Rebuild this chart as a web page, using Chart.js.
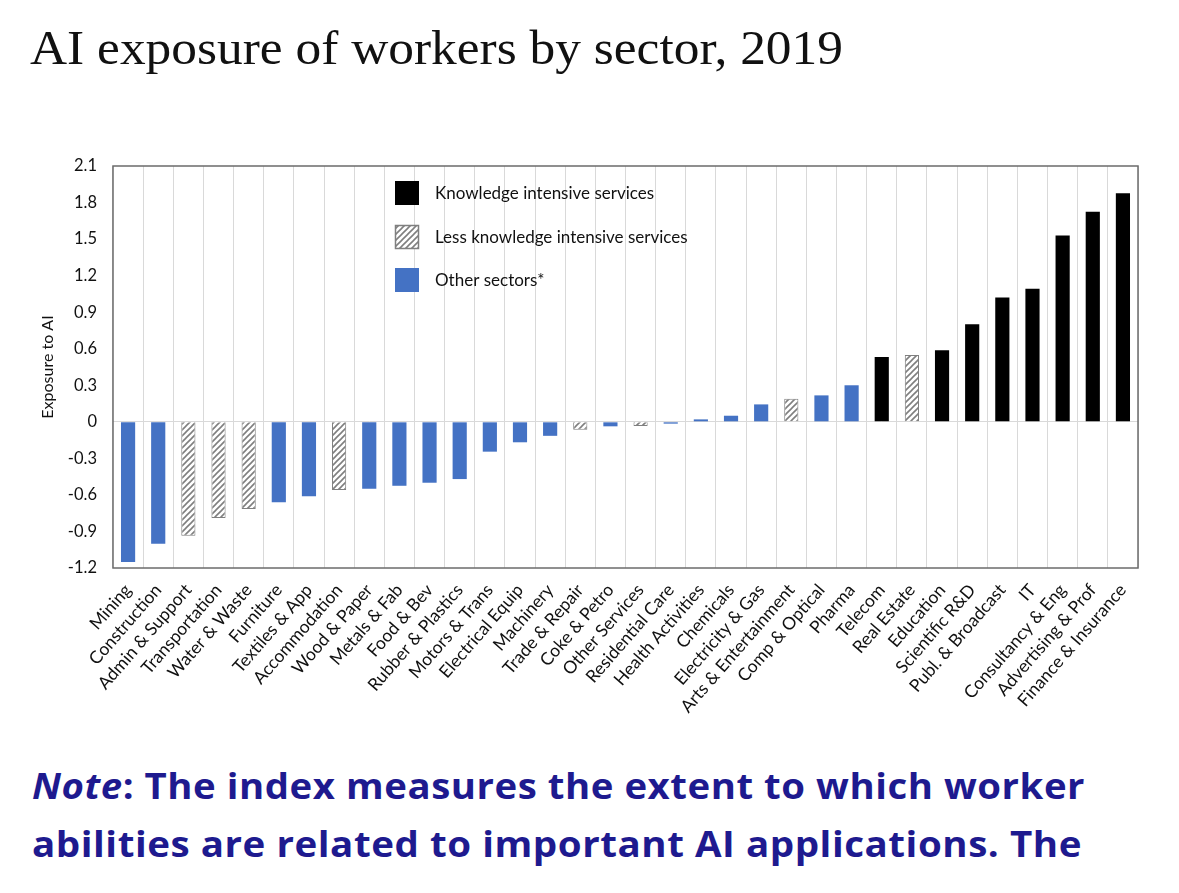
<!DOCTYPE html>
<html>
<head>
<meta charset="utf-8">
<script src="https://cdn.jsdelivr.net/npm/chart.js@4.4.1/dist/chart.umd.min.js"></script>
<style>
  html, body { margin: 0; padding: 0; background: #fff; width: 1179px; height: 893px; overflow: hidden; }
  #title { position: absolute; left: 30px; top: 20px; font-family: "Liberation Serif", serif; font-size: 48px; color: #111; white-space: nowrap; transform-origin: 0 0; }
  #wrap { position: absolute; left: 0; top: 0; width: 1179px; height: 760px; }
  .nl { position: absolute; left: 32px; font-family: "Open Sans", Roboto, sans-serif; font-weight: 700; font-size: 36px; line-height: 40px; color: #1e1a8f; white-space: nowrap; transform-origin: 0 0; letter-spacing: 0.5px; }
  #n1 { top: 766px; }
  #n2 { top: 824px; }
  .nl i { font-weight: 700; }
</style>
</head>
<body>
<div id="title">AI exposure of workers by sector, 2019</div>
<div id="wrap"><canvas id="c" width="1179" height="760"></canvas></div>
<div class="nl" id="n1"><i>Note</i>: The index measures the extent to which worker</div>
<div class="nl" id="n2">abilities are related to important AI applications. The</div>
<script>
const categories = ["Mining","Construction","Admin & Support","Transportation","Water & Waste","Furniture","Textiles & App","Accommodation","Wood & Paper","Metals & Fab","Food & Bev","Rubber & Plastics","Motors & Trans","Electrical Equip","Machinery","Trade & Repair","Coke & Petro","Other Services","Residential Care","Health Activities","Chemicals","Electricity & Gas","Arts & Entertainment","Comp & Optical","Pharma","Telecom","Real Estate","Education","Scientific R&D","Publ. & Broadcast","IT","Consultancy & Eng","Advertising & Prof","Finance & Insurance"];
const exposure = [-1.15,-1.00,-0.935,-0.79,-0.715,-0.66,-0.61,-0.56,-0.55,-0.525,-0.50,-0.47,-0.245,-0.168,-0.115,-0.065,-0.037,-0.035,-0.015,0.02,0.05,0.143,0.19,0.217,0.30,0.532,0.548,0.587,0.80,1.02,1.093,1.53,1.725,1.876];
const sectorGroup = ["O","O","L","L","L","O","O","L","O","O","O","O","O","O","O","L","O","L","O","O","O","O","L","O","O","K","L","K","K","K","K","K","K","K"];
const groupKeys = ["K","L","O"];
const groupNames = ["Knowledge intensive services","Less knowledge intensive services","Other sectors*"];
const yTicks = [-1.2,-0.9,-0.6,-0.3,0,0.3,0.6,0.9,1.2,1.5,1.8,2.1];

// stretch title and note lines horizontally to the reference's widths
function fitWidth(el, target) {
  const w = el.getBoundingClientRect().width;
  el.style.transform = 'scaleX(' + (target / w).toFixed(4) + ')';
}
fitWidth(document.getElementById('title'), 813);
fitWidth(document.getElementById('n1'), 1053);
fitWidth(document.getElementById('n2'), 1050);

function makeHatch() {
  const s = 6;
  const pc = document.createElement('canvas');
  pc.width = s; pc.height = s;
  const g = pc.getContext('2d');
  g.fillStyle = '#ffffff';
  g.fillRect(0, 0, s, s);
  g.strokeStyle = '#7f7f7f';
  g.lineWidth = 1.6;
  g.beginPath();
  g.moveTo(-1, s + 1); g.lineTo(s + 1, -1);
  g.moveTo(-1, 1); g.lineTo(1, -1);
  g.moveTo(s - 1, s + 1); g.lineTo(s + 1, s - 1);
  g.stroke();
  return document.getElementById('c').getContext('2d').createPattern(pc, 'repeat');
}
const hatch = makeHatch();
const fills = { K: '#000000', L: hatch, O: '#4472c4' };
const borders = { K: '#000000', L: '#7f7f7f', O: '#4472c4' };
const borderW = { K: 0, L: 1, O: 0 };

const datasets = groupKeys.map((k, gi) => ({
  label: groupNames[gi],
  data: exposure.map((v, i) => sectorGroup[i] === k ? v : null),
  backgroundColor: fills[k],
  borderColor: borders[k],
  borderWidth: borderW[k],
  grouped: false,
  categoryPercentage: 1,
  barPercentage: 0.47
}));

const FONT = 'Lato, "Open Sans", sans-serif';

const boxPlugin = {
  id: 'boxAndLegend',
  afterDatasetsDraw(chart) {
    const { ctx, chartArea: a } = chart;
    ctx.save();
    ctx.strokeStyle = '#6b6b6b';
    ctx.lineWidth = 1.5;
    ctx.strokeRect(a.left, a.top, a.right - a.left, a.bottom - a.top);
    const bx = a.left + 282, bw = 24, bh = 24;
    const rows = [a.top + 15, a.top + 59, a.top + 102];
    ctx.font = '17px ' + FONT;
    ctx.textBaseline = 'middle';
    ctx.textAlign = 'left';
    groupKeys.forEach((k, i) => {
      const y = rows[i];
      ctx.fillStyle = fills[k];
      ctx.fillRect(bx, y, bw, bh);
      if (k === 'L') {
        ctx.strokeStyle = '#7f7f7f';
        ctx.lineWidth = 1.5;
        ctx.strokeRect(bx + 0.5, y + 0.5, bw - 1, bh - 1);
      }
      ctx.fillStyle = '#111';
      ctx.fillText(groupNames[i], bx + 40, y + bh / 2 + 1);
    });
    ctx.restore();
  }
};

new Chart(document.getElementById('c'), {
  type: 'bar',
  data: { labels: categories, datasets },
  plugins: [boxPlugin],
  options: {
    responsive: false,
    animation: false,
    layout: { padding: { top: 166, left: 38, right: 41, bottom: 0 } },
    plugins: { legend: { display: false }, tooltip: { enabled: false } },
    scales: {
      x: {
        afterFit(s) { s.height = 192; },
        grid: { offset: true, color: '#d9d9d9', lineWidth: 1, drawTicks: false },
        border: { display: false },
        ticks: {
          autoSkip: false, minRotation: 49, maxRotation: 49, padding: 12,
          color: '#111', font: { family: FONT, size: 17.5 }
        }
      },
      y: {
        min: -1.2, max: 2.1,
        afterFit(s) { s.width = 75; },
        afterBuildTicks(s) { s.ticks = yTicks.map(v => ({ value: v })); },
        grid: { color: c => (c.tick && Math.abs(c.tick.value) < 1e-9) ? '#d9d9d9' : 'rgba(0,0,0,0)', drawTicks: false },
        border: { display: false },
        title: { display: true, text: 'Exposure to AI', color: '#111', font: { family: FONT, size: 16 }, padding: { top: 0, bottom: 0 } },
        ticks: {
          padding: 16, color: '#111',
          font: { family: FONT, size: 16.5 },
          callback: v => { const r = Math.round(v * 10) / 10; return r === 0 ? '0' : r.toFixed(1); }
        }
      }
    }
  }
});
</script>
</body>
</html>
